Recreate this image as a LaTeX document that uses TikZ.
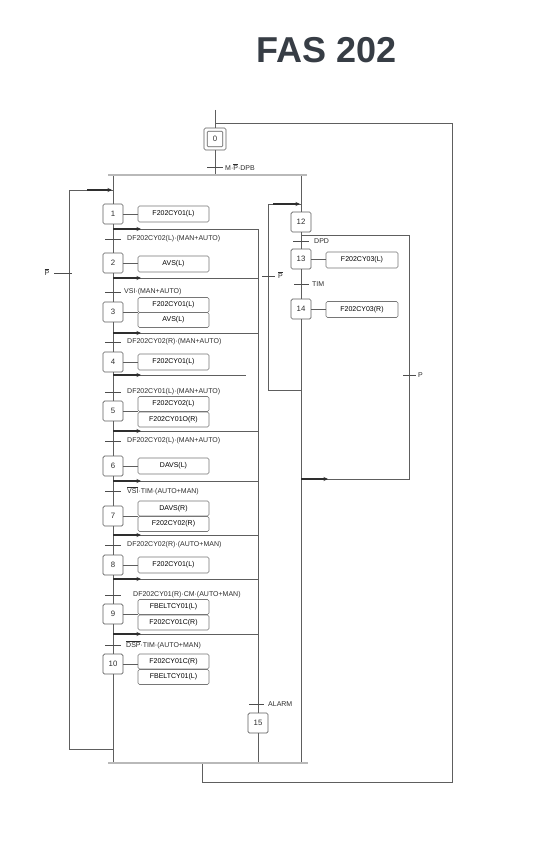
\documentclass[tikz,border=0pt]{standalone}
\usepackage{fontspec}
\setmainfont{Liberation Sans}
\usetikzlibrary{arrows.meta}
\definecolor{ln}{HTML}{5E5E5E}
\definecolor{dk}{HTML}{2E2E2E}
\definecolor{ttl}{HTML}{373D45}
\newcommand\ovl[1]{$\overline{\hbox{#1}}$}
\tikzset{
  stepbox/.style={draw=ln, line width=0.7pt, rounded corners=1.5pt, minimum width=20pt, minimum height=20pt, inner sep=0pt, fill=white, font=\fontsize{7.8}{8}\selectfont, text=dk},
  actbox/.style={draw=ln!85, line width=0.6pt, rounded corners=1.5pt, minimum width=71pt, minimum height=16pt, inner sep=0pt, fill=white, font=\fontsize{7}{8}\selectfont, text=black},
  acttwo/.style={actbox, minimum height=15pt},
  wire/.style={draw=ln, line width=0.8pt},
  tick/.style={draw=dk!85, line width=0.8pt},
  lbl/.style={anchor=west, inner sep=0pt, font=\fontsize{7}{8}\selectfont, text=dk},
  flow/.style={draw=dk, line width=1.3pt, -{Stealth[length=4.5pt,width=4pt]}},
  bar/.style={draw=ln, double=gray!55, double distance=1.6pt, line width=0.6pt}
}
\begin{document}
\begin{tikzpicture}[x=1pt,y=-1pt]
\useasboundingbox (0,0) rectangle (547,848);
\fill[white] (0,0) rectangle (547,848);
% title
\node[anchor=base, inner sep=0pt, font=\fontsize{36}{40}\selectfont\bfseries, text=ttl] (title) at (327,63) {FAS 202};

% ---- step 0 and outer return loop
\coordinate (in0) at (215,110);
\coordinate (r0) at (215,123);
\coordinate (r1) at (452,123);
\coordinate (r2) at (452,782);
\coordinate (r3) at (202,782);
\coordinate (r4) at (202,763);
\draw[wire] (r4) -- (r3) -- (r2) -- (r1) -- (r0);
\node[stepbox, minimum width=22pt, minimum height=22pt] (s0) at (215,139) {};
\node[draw=ln, line width=0.6pt, rounded corners=1pt, minimum width=15.5pt, minimum height=15.5pt, inner sep=0pt, font=\fontsize{7.8}{8}\selectfont, text=dk] (s0in) at (s0) {0};
\draw[wire] (in0) -- (s0.north);
\coordinate (b0) at (215,175);
\draw[wire] (s0.south) -- (b0);
\draw[tick] (207,167) -- (223,167);
\node[lbl] (t0) at (225,167) {M·\ovl{P}·DPB};

% ---- bars
\coordinate (barTL) at (108,175);
\coordinate (barTR) at (307,175);
\coordinate (barBL) at (108,763);
\coordinate (barBR) at (308,763);

% ---- left chain steps
\node[stepbox] (s1) at (113,214) {1};
\node[stepbox] (s2) at (113,263) {2};
\node[stepbox] (s3) at (113,312) {3};
\node[stepbox] (s4) at (113,362) {4};
\node[stepbox] (s5) at (113,411) {5};
\node[stepbox] (s6) at (113,466) {6};
\node[stepbox] (s7) at (113,516) {7};
\node[stepbox] (s8) at (113,565) {8};
\node[stepbox] (s9) at (113,614) {9};
\node[stepbox] (s10) at (113,664) {10};
\coordinate (c0) at (113,175);
\coordinate (c11) at (113,763);

% alarm bus and step 15
\node[stepbox] (s15) at (258,723) {15};
\coordinate (bus0) at (258,229);
\coordinate (bus1) at (258,763);
\draw[wire] (bus0) -- (s15.north);
\draw[wire] (s15.south) -- (bus1);
\draw[tick] (249,704) -- (264,704);
\node[lbl] (t15) at (268,704) {ALARM};

% alarm branch lines
\foreach \y/\xe in {229/258, 278/258, 333/258, 375/246, 431/258, 481/258, 535/258, 579/258, 634/258} {
  \draw[wire] (113,\y) -- (\xe,\y);
}
\draw[wire] (c0) -- (s1) -- (s2) -- (s3) -- (s4) -- (s5) -- (s6) -- (s7) -- (s8) -- (s9) -- (s10) -- (c11);
\foreach \y in {229, 278, 333, 375, 431, 481, 535, 579, 634} {
  \draw[flow] (113,\y) -- (141,\y);
}

% transitions of left chain
\foreach \y in {239,292,342,392,441,491,545,595,645} {
  \draw[tick] (105,\y) -- (121,\y);
}
\node[lbl] (t1) at (127,239) {DF202CY02(L)·(MAN+AUTO)};
\node[lbl] (t2) at (124,292) {VSI·(MAN+AUTO)};
\node[lbl] (t3) at (127,342) {DF202CY02(R)·(MAN+AUTO)};
\node[lbl] (t4) at (127,392) {DF202CY01(L)·(MAN+AUTO)};
\node[lbl] (t5) at (127,441) {DF202CY02(L)·(MAN+AUTO)};
\node[lbl] (t6) at (127,491) {\ovl{VSI}·TIM·(AUTO+MAN)};
\node[lbl] (t7) at (127,545) {DF202CY02(R)·(AUTO+MAN)};
\node[lbl] (t8) at (133,595) {DF202CY01(R)·CM·(AUTO+MAN)};
\node[lbl] (t9) at (126,645) {\ovl{DSP}·TIM·(AUTO+MAN)};

% actions of left chain
\node[actbox] (a1) at (173.5,214) {F202CY01(L)};
\node[actbox] (a2) at (173.5,264) {AVS(L)};
\node[acttwo] (a3a) at (173.5,305) {F202CY01(L)};
\node[acttwo] (a3b) at (173.5,320) {AVS(L)};
\node[actbox] (a4) at (173.5,362) {F202CY01(L)};
\node[acttwo] (a5a) at (173.5,404) {F202CY02(L)};
\node[acttwo] (a5b) at (173.5,419.5) {F202CY01O(R)};
\node[actbox] (a6) at (173.5,466) {DAVS(L)};
\node[acttwo] (a7a) at (173.5,508.5) {DAVS(R)};
\node[acttwo] (a7b) at (173.5,524) {F202CY02(R)};
\node[actbox] (a8) at (173.5,565) {F202CY01(L)};
\node[acttwo] (a9a) at (173.5,607) {FBELTCY01(L)};
\node[acttwo] (a9b) at (173.5,622.5) {F202CY01C(R)};
\node[acttwo] (a10a) at (173.5,661.5) {F202CY01C(R)};
\node[acttwo] (a10b) at (173.5,677) {FBELTCY01(L)};
\draw[wire] (s1.east) -- (a1.west);
\draw[wire] (s2.east) -- (s2.east -| a2.west);
\draw[wire] (s3.east) -- (s3.east -| a3a.west);
\draw[wire] (s4.east) -- (a4.west);
\draw[wire] (s5.east) -- (s5.east -| a5a.west);
\draw[wire] (s6.east) -- (a6.west);
\draw[wire] (s7.east) -- (s7.east -| a7a.west);
\draw[wire] (s8.east) -- (a8.west);
\draw[wire] (s9.east) -- (s9.east -| a9a.west);
\draw[wire] (s10.east) -- (s10.east -| a10a.west);

% left return loop
\coordinate (L0) at (113,190);
\coordinate (L1) at (69,190);
\coordinate (L2) at (69,749);
\coordinate (L3) at (113,749);
\draw[wire] (L3) -- (L2) -- (L1) -- (L0);
\draw[flow] (87,190) -- (112,190);
\draw[tick] (54,273) -- (72,273);
\node[inner sep=0pt, font=\fontsize{7}{8}\selectfont, text=dk] (tL) at (47,272) {\ovl{P}};

% ---- right chain
\node[stepbox] (s12) at (301,222) {12};
\node[stepbox] (s13) at (301,259) {13};
\node[stepbox] (s14) at (301,309) {14};
\coordinate (d0) at (301,175);
\coordinate (d1) at (301,763);
\draw[wire] (d0) -- (s12) -- (s13) -- (s14) -- (d1);
\draw[tick] (293,241) -- (309,241);
\node[lbl] (t12) at (314,241) {DPD};
\draw[tick] (294,284) -- (309,284);
\node[lbl] (t13) at (312,284) {TIM};
\node[actbox, minimum width=72pt] (a13) at (362,260) {F202CY03(L)};
\node[actbox, minimum width=72pt] (a14) at (362,309.5) {F202CY03(R)};
\draw[wire] (s13.east) -- (s13.east -| a13.west);
\draw[wire] (s14.east) -- (s14.east -| a14.west);

% P-bar loop to step 12
\coordinate (q0) at (301,390);
\coordinate (q1) at (268,390);
\coordinate (q2) at (268,204);
\coordinate (q3) at (301,204);
\draw[wire] (q0) -- (q1) -- (q2) -- (q3);
\draw[flow] (273,204) -- (300,204);
\draw[tick] (262,276) -- (275,276);
\node[lbl] (tq) at (278,275) {\ovl{P}};

% P loop
\coordinate (p0) at (301,479);
\coordinate (p1) at (409,479);
\coordinate (p2) at (409,235);
\coordinate (p3) at (301,235);
\draw[wire] (p0) -- (p1) -- (p2) -- (p3);
\draw[flow] (301,479) -- (328,479);
\draw[tick] (403,375) -- (416,375);
\node[lbl] (tp) at (418,375) {P};

% bars on top
\draw[bar] (barTL) -- (barTR);
\draw[bar] (barBL) -- (barBR);
\end{tikzpicture}
\end{document}
